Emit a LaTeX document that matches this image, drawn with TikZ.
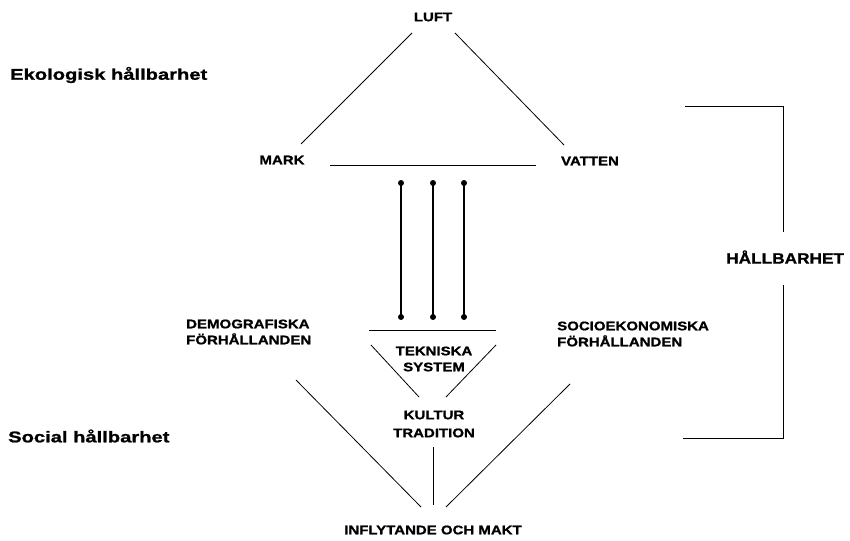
\documentclass[tikz,border=0pt]{standalone}
\usepackage{fontspec}
\setmainfont{Liberation Sans}
\newfontfamily\labfont[FakeStretch=1.2,FakeBold=1.2]{Liberation Sans}
\newfontfamily\sidefont[FakeStretch=1.3,FakeBold=1.2]{Liberation Sans}
\newfontfamily\bigfont[FakeStretch=1.15,FakeBold=1.2]{Liberation Sans}
\begin{document}
\begin{tikzpicture}[x=1pt,y=-1pt,
  lab/.style={font=\labfont\bfseries\fontsize{12.5}{16}\selectfont, inner sep=0pt},
  side/.style={font=\sidefont\bfseries\fontsize{15.5}{17}\selectfont, inner sep=0pt, anchor=west},
  conn/.style={line width=0.8pt},
  dotline/.style={line width=1.2pt},
  dot/.style={circle, fill=black, inner sep=0pt, minimum size=6pt}]
\useasboundingbox (0,0) rectangle (850,540);
% labels
\node[lab] (luft) at (433,17) {LUFT};
\node[lab] (mark) at (282,160) {MARK};
\node[lab] (vatten) at (590,161) {VATTEN};
\node[lab, anchor=west, align=left] (demo) at (186,332) {DEMOGRAFISKA\\FÖRHÅLLANDEN};
\node[lab, anchor=west, align=left] (socio) at (557,334) {SOCIOEKONOMISKA\\FÖRHÅLLANDEN};
\node[lab, align=center] (tek) at (434,359) {TEKNISKA\\SYSTEM};
\node[lab, align=center, font=\labfont\bfseries\fontsize{12.5}{18}\selectfont] (kult) at (434,424) {KULTUR\\TRADITION};
\node[lab] (infl) at (433,530) {INFLYTANDE OCH MAKT};
\node[side] (ekol) at (10,75) {Ekologisk hållbarhet};
\node[side] (soc) at (8,436) {Social hållbarhet};
\node[font=\bigfont\bfseries\fontsize{15}{17}\selectfont, inner sep=0pt, anchor=west] (hallb) at (726,257) {HÅLLBARHET};
% coordinates
\coordinate (l1) at (412,33); \coordinate (l2) at (301,144);
\coordinate (r1) at (455,33); \coordinate (r2) at (564,145);
\coordinate (h1) at (330,165); \coordinate (h2) at (536,165);
\coordinate (g1) at (369,330); \coordinate (g2) at (496,330);
\coordinate (t1) at (371,345); \coordinate (t2) at (419,397);
\coordinate (t3) at (496,345); \coordinate (t4) at (446,397);
\coordinate (k1) at (433,447); \coordinate (k2) at (433,505);
\coordinate (d1) at (296,380); \coordinate (d2) at (421,507);
\coordinate (s1) at (570,384); \coordinate (s2) at (446,507);
\coordinate (b1) at (685,106); \coordinate (b2) at (783,106); \coordinate (b3) at (783,232);
\coordinate (b4) at (783,285); \coordinate (b5) at (783,438); \coordinate (b6) at (683,438);
% dots
\node[dot] (a1) at (401,183) {}; \node[dot] (a2) at (401,317) {};
\node[dot] (c1) at (433,183) {}; \node[dot] (c2) at (433,317) {};
\node[dot] (e1) at (464,183) {}; \node[dot] (e2) at (464,317) {};
% lines
\draw[conn] (l1) -- (l2);
\draw[conn] (r1) -- (r2);
\draw[conn] (h1) -- (h2);
\draw[conn] (g1) -- (g2);
\draw[conn] (t1) -- (t2);
\draw[conn] (t3) -- (t4);
\draw[conn] (k1) -- (k2);
\draw[conn] (d1) -- (d2);
\draw[conn] (s1) -- (s2);
\draw[dotline] (a1.center) -- (a2.center);
\draw[dotline] (c1.center) -- (c2.center);
\draw[dotline] (e1.center) -- (e2.center);
\draw[conn] (b1) -- (b2) -- (b3);
\draw[conn] (b4) -- (b5) -- (b6);
\end{tikzpicture}
\end{document}
